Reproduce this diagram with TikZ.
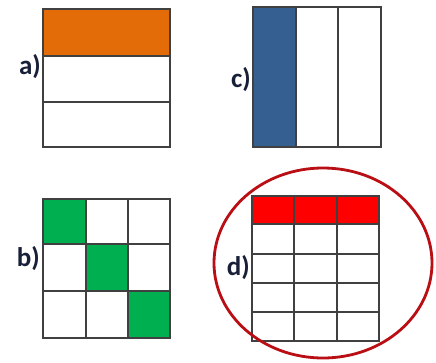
\documentclass[tikz,border=0pt]{standalone}
\usepackage{fontspec}
\setmainfont{Carlito}
\usetikzlibrary{positioning}
\definecolor{labcolor}{RGB}{23,32,56}
\definecolor{orangefill}{RGB}{227,108,9}
\definecolor{bluefill}{RGB}{54,95,145}
\definecolor{greenfill}{RGB}{0,176,80}
\definecolor{redfill}{RGB}{255,0,0}
\definecolor{ringcolor}{RGB}{185,15,20}
\tikzset{
  gridln/.style={line width=1.3pt, black!75},
  partlab/.style={font=\bfseries\fontsize{27}{27}\selectfont, text=labcolor, inner sep=0pt, anchor=east},
  ringln/.style={line width=2.8pt, ringcolor},
}

\begin{document}
\begin{tikzpicture}[x=1pt, y=-1pt]
  \useasboundingbox (0,0) rectangle (436,362);
  % a) three horizontal strips, top one filled
  \fill[orangefill] (43,9) rectangle (170,56);
  \foreach \y in {56,102} \draw[gridln] (43,\y) -- (170,\y);
  \draw[gridln] (43,9) rectangle (170,147);
  \node[partlab] (laba) at (41,67) {a)};
  % c) three vertical strips, left one filled
  \fill[bluefill] (253,7) rectangle (296,147);
  \foreach \x in {296,338} \draw[gridln] (\x,7) -- (\x,147);
  \draw[gridln] (253,7) rectangle (381,147);
  \node[partlab] (labc) at (251,80) {c)};
  % b) 3x3 grid, diagonal filled
  \foreach \xa/\ya/\xb/\yb in {43/199/86/244, 86/244/128/291, 128/291/170/338}
    \fill[greenfill] (\xa,\ya) rectangle (\xb,\yb);
  \foreach \x in {86,128} \draw[gridln] (\x,199) -- (\x,338);
  \foreach \y in {244,291} \draw[gridln] (43,\y) -- (170,\y);
  \draw[gridln] (43,199) rectangle (170,338);
  \node[partlab] (labb) at (40,259) {b)};
  % d) 3x5 grid, top row filled, ringed
  \fill[redfill] (252,196) rectangle (379,224);
  \foreach \x in {294,337} \draw[gridln] (\x,196) -- (\x,341);
  \foreach \y in {224,254,283,312} \draw[gridln] (252,\y) -- (379,\y);
  \draw[gridln] (252,196) rectangle (379,341);
  \node[partlab] (labd) at (250,268) {d)};
  \draw[ringln] (323,263) ellipse (109 and 95);
\end{tikzpicture}
\end{document}
